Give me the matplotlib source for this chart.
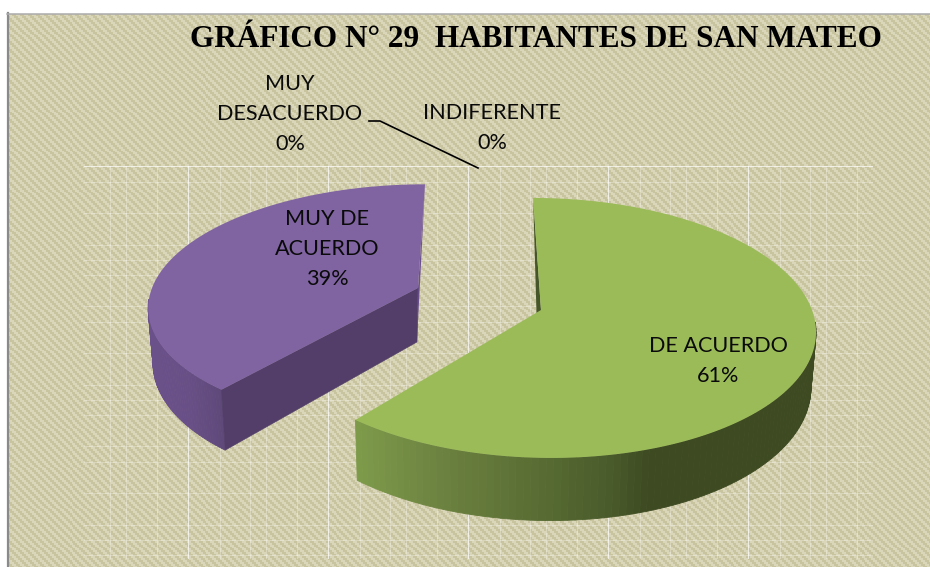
#!/usr/bin/env python3
"""Grafico 29: 3D-looking exploded pie over a woven background."""

import matplotlib
matplotlib.use("Agg")
import matplotlib.pyplot as plt
import numpy as np

TITLE = "GRÁFICO N° 29  HABITANTES DE SAN MATEO"
CATEGORIES = ["MUY\nDESACUERDO", "INDIFERENTE", "MUY DE\nACUERDO", "DE ACUERDO"]
PERCENTS = [0, 0, 39, 61]

W, H = 930, 567
START_ANGLE = 90.0

# perspective of the pie, in pixels
PERSP = 0.138
VANISH_X = 476.0
DEPTH = 54.0
SHRINK = 0.985

GREEN = {"apex": (541, 310), "rx": 271.0, "ry": 127.5, "apex_dx": -3,
         "top": "#9BBB59", "far": "#46562A",
         "side_x": [351, 440, 540, 610, 650, 830],
         "side_c": ["#7F9C4B", "#6C8240", "#586C33", "#4A5B2B", "#3E4A22", "#3E4A22"]}
PURPLE = {"apex": (418, 288), "rx": 266.0, "ry": 118.0, "apex_dx": -1,
          "top": "#8064A2", "far": "#6C5190", "near": "#523E68",
          "side_x": [150, 190, 225],
          "side_c": ["#6B5189", "#684F86", "#5E4878"]}

GRID_X_OFFSETS = [110, 126, 157, 188, 220]
GRID_Y_OFFSETS = [166, 182, 213, 245, 260, 275]
GRID_PERIOD = 140


def project(theta, slc):
    x0, y0 = slc["apex"]
    u, v = np.cos(theta), np.sin(theta)
    d = 1 + PERSP * v
    x = (x0 + slc["rx"] * u + PERSP * v * VANISH_X) / d
    y = y0 - slc["ry"] * v / d
    return x, y, d


def drop(x, y, d):
    """Same rim point on the bottom face of the slice."""
    return VANISH_X + (x - VANISH_X) * SHRINK, y + DEPTH / d


def side_colors(xs, slc):
    stops = np.array([matplotlib.colors.to_rgb(c) for c in slc["side_c"]])
    return np.column_stack([np.interp(xs, slc["side_x"], stops[:, i]) for i in range(3)])


def draw_slice(ax, slc, a0, a1, near_face):
    theta = np.radians(np.linspace(a0, a1, 160))
    x, y, d = project(theta, slc)
    bx, by = drop(x, y, d)
    ax0, ay0 = slc["apex"]
    abx, aby = ax0 + slc["apex_dx"], ay0 + DEPTH

    # far cut face, only a sliver shows next to the top face
    ax.fill([x[0], ax0, abx], [y[0], ay0, aby], color=slc["far"], lw=0, zorder=3)

    # rim, shaded in vertical bands; the far half is hidden anyway
    cols = side_colors((x[:-1] + x[1:]) / 2, slc)
    for i in range(len(theta) - 1):
        if np.sin(theta[i]) > -0.1 and np.sin(theta[i + 1]) > -0.1:
            continue
        ax.fill([x[i], x[i + 1], bx[i + 1], bx[i]], [y[i], y[i + 1], by[i + 1], by[i]],
                color=cols[i], lw=0.6, zorder=3)

    if near_face:
        ax.fill([ax0, x[-1], bx[-1], abx], [ay0, y[-1], by[-1], aby],
                color=slc["near"], lw=0.4, zorder=4)

    ax.fill(np.r_[ax0, x], np.r_[ay0, y], color=slc["top"], lw=0, zorder=5)


def background():
    yy, xx = np.mgrid[0:H, 0:W]
    phase = ((xx // 2) * 2 - (yy // 2) * 2) % 8
    img = np.empty((H, W, 3))
    img[phase < 4] = matplotlib.colors.to_rgb("#DAD6B9")
    img[phase >= 4] = matplotlib.colors.to_rgb("#C9C4A0")
    return img


def main():
    plt.rcParams["font.family"] = ["Lato", "DejaVu Sans"]
    fig = plt.figure(figsize=(W / 100, H / 100), dpi=100, facecolor="white")
    ax = fig.add_axes([0, 0, 1, 1])
    ax.set_xlim(0, W)
    ax.set_ylim(H, 0)
    ax.axis("off")

    ax.imshow(background(), extent=(8, W, H, 14), interpolation="nearest",
              aspect="auto", zorder=1)
    ax.set_xlim(0, W)
    ax.set_ylim(H, 0)
    ax.plot([8, 8], [13, H], color="#8A8A8A", lw=1.6, zorder=2)
    ax.plot([7, W], [13.5, 13.5], color="#ABABAB", lw=1.1, zorder=2)

    # faint white grid
    for n in range(6):
        for off in GRID_X_OFFSETS:
            gx = off + n * GRID_PERIOD
            if gx <= 872:
                bright = off == 188
                ax.plot([gx, gx], [166, 558], color="white", lw=0.7,
                        alpha=0.7 if bright else 0.3, zorder=2)
    for n in range(3):
        for off in GRID_Y_OFFSETS:
            gy = off + n * GRID_PERIOD
            if gy <= 558:
                ax.plot([84, 872], [gy, gy], color="white", lw=0.7,
                        alpha=0.7 if gy == 166 else 0.3, zorder=2)

    # slices, swept from the percentages
    green_sweep = PERCENTS[3] * 3.6
    purple_sweep = PERCENTS[2] * 3.6
    draw_slice(ax, GREEN, START_ANGLE, START_ANGLE - green_sweep, False)
    draw_slice(ax, PURPLE, START_ANGLE, START_ANGLE + purple_sweep, True)

    # leader line of the zero slice
    ax.plot([369, 380, 478], [121, 121, 168], color="black", lw=1.2, zorder=6)

    ax.text(535.5, 47, TITLE, family="Liberation Serif", weight="bold", fontsize=22.5,
            ha="center", va="baseline", color="black", zorder=7)

    label_pos = [(290, 114), (492, 128), (327, 249), (718, 361)]
    for cat, pct, (lx, ly) in zip(CATEGORIES, PERCENTS, label_pos):
        ax.text(lx, ly, f"{cat}\n{pct}%", fontsize=15.6, ha="center", va="center",
                multialignment="center", linespacing=1.64, color="#0A0A0A", zorder=7)

    fig.savefig("out.png", dpi=100)
    plt.close(fig)


if __name__ == "__main__":
    main()
